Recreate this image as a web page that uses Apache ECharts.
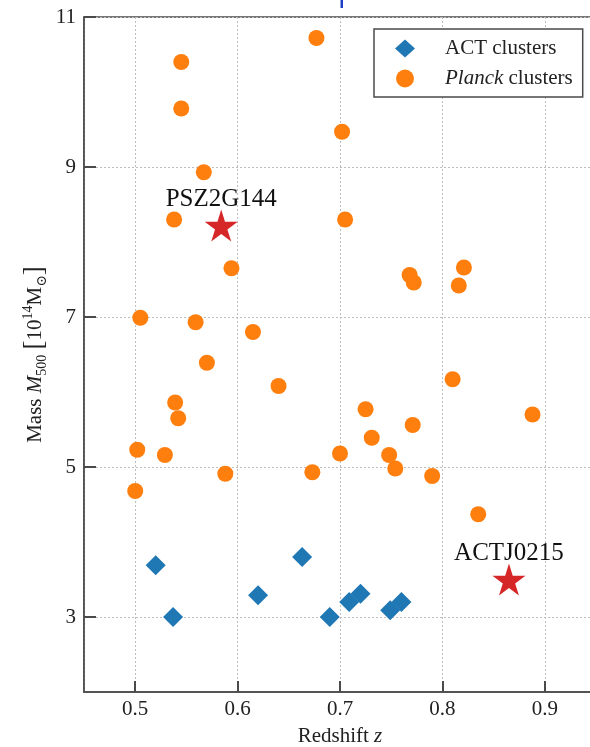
<!DOCTYPE html>
<html>
<head>
<meta charset="utf-8">
<script src="https://cdn.jsdelivr.net/npm/echarts@6/dist/echarts.min.js"></script>
<style>
  html, body { margin: 0; padding: 0; background: #fff; }
  #chart { width: 590px; height: 747px; }
</style>
</head>
<body>
<div id="chart"></div>
<script>
// ACT-selected clusters: redshift and mass (10^14 Msun)
const zAct = [0.520, 0.537, 0.620, 0.663, 0.690, 0.709, 0.720, 0.749, 0.760];
const mAct = [3.69, 3.00, 3.29, 3.80, 3.00, 3.20, 3.31, 3.09, 3.20];

// Planck-selected clusters
const zPlanck = [0.677, 0.545, 0.545, 0.702, 0.567, 0.538, 0.705, 0.594, 0.768, 0.772,
                 0.821, 0.816, 0.505, 0.559, 0.615, 0.570, 0.640, 0.810, 0.539, 0.725,
                 0.888, 0.542, 0.771, 0.731, 0.502, 0.529, 0.700, 0.748, 0.754, 0.673,
                 0.588, 0.790, 0.500, 0.835];
const mPlanck = [10.72, 10.40, 9.78, 9.47, 8.93, 8.30, 8.30, 7.65, 7.56, 7.46,
                 7.66, 7.42, 6.99, 6.93, 6.80, 6.39, 6.08, 6.17, 5.86, 5.77,
                 5.70, 5.65, 5.56, 5.39, 5.23, 5.16, 5.18, 5.16, 4.98, 4.93,
                 4.91, 4.88, 4.68, 4.37];

// Highlighted clusters
const hiNames = ['PSZ2G144', 'ACTJ0215'];
const zHi = [0.584, 0.865];
const mHi = [8.22, 3.50];

// Axis ranges and tick spacing
const xRange = [0.45, 0.95];
const yRange = [2, 11];
const yTickRange = [1, 11];   // odd-valued ticks: 3, 5, 7, 9, 11 (1 falls below the plot)
const yStep = 2;

const FONT = '"Liberation Serif", "DejaVu Serif", serif';
const INK = '#222';
const AXIS = '#4a4a4a';
const GRIDLINE = { color: '#bdbdbd', type: [2, 2], width: 1 };

// Plot box in pixels
const PLOT = { left: 84, top: 17, width: 512, height: 675 };
// The tick grid has the same pixels per unit but starts one unit lower
const tickGridHeight = PLOT.height * (yTickRange[1] - yTickRange[0]) / (yRange[1] - yRange[0]);

const isTenth = v => Math.abs(v * 10 - Math.round(v * 10)) < 1e-6;
const pairs = (xs, ys) => xs.map((x, i) => [x, ys[i]]);
const starPath = 'path://M50,0 L61,35 L98,35 L68,57 L79,91 L50,70 L21,91 L32,57 L2,35 L39,35 Z';

const chart = echarts.init(document.getElementById('chart'), null, { renderer: 'canvas' });

chart.setOption({
  animation: false,
  backgroundColor: '#fff',
  grid: [
    {
      left: PLOT.left, top: PLOT.top, width: PLOT.width, height: PLOT.height,
      outerBoundsMode: 'none', containLabel: false,
      show: true, borderColor: AXIS, borderWidth: 1.5, backgroundColor: 'transparent'
    },
    {
      left: PLOT.left, top: PLOT.top, width: PLOT.width, height: tickGridHeight,
      outerBoundsMode: 'none', containLabel: false, show: false
    }
  ],
  xAxis: [
    {
      gridIndex: 0,
      type: 'value',
      min: xRange[0], max: xRange[1],
      name: '{n|Redshift }{i|z}',
      nameLocation: 'middle',
      nameGap: 34,
      nameTextStyle: {
        rich: {
          n: { fontFamily: FONT, fontSize: 21, color: INK },
          i: { fontFamily: FONT, fontSize: 21, fontStyle: 'italic', color: INK }
        }
      },
      axisLine: { show: true, onZero: false, lineStyle: { color: AXIS, width: 1.5 } },
      axisTick: { show: true, inside: true, length: 11, lineStyle: { color: AXIS, width: 2 } },
      axisLabel: {
        margin: 7, fontFamily: FONT, fontSize: 21, color: INK,
        showMinLabel: false, showMaxLabel: false,
        formatter: v => isTenth(v) ? v.toFixed(1) : ''
      },
      splitLine: { show: true, lineStyle: GRIDLINE }
    },
    {
      gridIndex: 1, type: 'value', min: 0, max: 1, show: false
    }
  ],
  yAxis: [
    {
      gridIndex: 0,
      type: 'value',
      min: yRange[0], max: yRange[1],
      name: '{n|Mass }{i|M}{sub|500}{n| }{b|[}{n|10}{sup|14}{n|M}{sub|⊙}{b|]}',
      nameLocation: 'middle',
      nameGap: 35,
      nameRotate: 90,
      nameTextStyle: {
        rich: {
          n: { fontFamily: FONT, fontSize: 21, color: INK, lineHeight: 28, verticalAlign: 'middle' },
          i: { fontFamily: FONT, fontSize: 21, fontStyle: 'italic', color: INK, lineHeight: 28, verticalAlign: 'middle' },
          b: { fontFamily: FONT, fontSize: 27, color: INK, lineHeight: 28, verticalAlign: 'middle' },
          sub: { fontFamily: FONT, fontSize: 14, color: INK, lineHeight: 14, verticalAlign: 'bottom' },
          sup: { fontFamily: FONT, fontSize: 14, color: INK, lineHeight: 14, verticalAlign: 'top' }
        }
      },
      axisLine: { show: true, onZero: false, lineStyle: { color: AXIS, width: 1.5 } },
      axisTick: { show: false },
      axisLabel: { show: false },
      splitLine: { show: false }
    },
    {
      gridIndex: 1,
      type: 'value',
      min: yTickRange[0], max: yTickRange[1], interval: yStep,
      axisLine: { show: false },
      axisTick: { show: true, inside: true, length: 12, lineStyle: { color: AXIS, width: 2 } },
      axisLabel: {
        margin: 8, fontFamily: FONT, fontSize: 21, color: INK,
        formatter: v => v < yRange[0] ? '' : String(v)
      },
      splitLine: { show: true, lineStyle: GRIDLINE }
    }
  ],
  legend: {
    orient: 'vertical',
    left: 374, top: 29,
    padding: [9, 10, 8, 21],
    itemWidth: 20, itemHeight: 18, itemGap: 9,
    borderColor: AXIS, borderWidth: 1.5, borderRadius: 0,
    backgroundColor: '#fff',
    data: ['ACT clusters', 'Planck clusters'],
    formatter: name => name === 'Planck clusters' ? '{i|Planck}{n| clusters}' : '{n|' + name + '}',
    textStyle: {
      padding: [0, 0, 0, 25],
      rich: {
        n: { fontFamily: FONT, fontSize: 21, color: INK, lineHeight: 20 },
        i: { fontFamily: FONT, fontSize: 21, fontStyle: 'italic', color: INK, lineHeight: 20 }
      }
    }
  },
  graphic: [
    { type: 'rect', shape: { x: 340.5, y: 0, width: 2.5, height: 8 }, style: { fill: '#1d3fc4' }, z: 10 }
  ],
  series: [
    {
      name: 'ACT clusters',
      type: 'scatter',
      xAxisIndex: 0, yAxisIndex: 0,
      symbol: 'diamond',
      symbolSize: [20, 20],
      itemStyle: { color: '#1f77b4', opacity: 1 },
      data: pairs(zAct, mAct),
      z: 3
    },
    {
      name: 'Planck clusters',
      type: 'scatter',
      xAxisIndex: 0, yAxisIndex: 0,
      symbol: 'circle',
      symbolSize: 16,
      itemStyle: { color: '#ff7f0e', opacity: 1 },
      data: pairs(zPlanck, mPlanck),
      z: 2
    },
    {
      name: 'highlight',
      type: 'scatter',
      xAxisIndex: 0, yAxisIndex: 0,
      symbol: starPath,
      symbolSize: [33, 32],
      itemStyle: { color: '#d62728', opacity: 1 },
      label: {
        show: true, position: 'top', distance: -2,
        fontFamily: FONT, fontSize: 25, color: '#111',
        formatter: p => p.data[2]
      },
      data: zHi.map((z, i) => [z, mHi[i], hiNames[i]]),
      z: 4
    }
  ]
});
</script>
</body>
</html>
